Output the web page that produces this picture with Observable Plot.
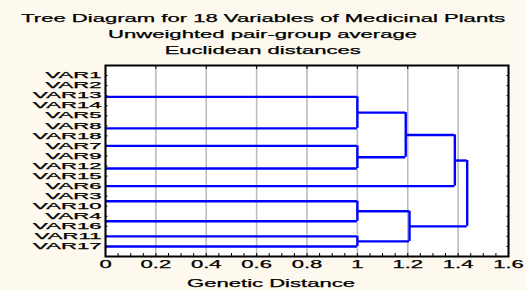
<!DOCTYPE html>
<html>
<head>
<meta charset="utf-8">
<script src="https://cdn.jsdelivr.net/npm/d3@7"></script>
<script src="https://cdn.jsdelivr.net/npm/@observablehq/plot@0.6"></script>
<style>
  html, body { margin: 0; padding: 0; background: #fdf9ee; }
  #wrap { width: 526px; height: 290px; overflow: hidden; background: #fdf9ee; }
  #title { width: 526px; text-align: center; padding-top: 10px; height: 48px;
           font-family: "Liberation Sans", Arial, sans-serif; font-size: 10.5px; line-height: 16px; color: #000;
           -webkit-text-stroke: 0.25px #000; }
  #title span { display: inline-block; transform: scaleX(2.1); white-space: nowrap; }
</style>
</head>
<body>
<div id="wrap">
  <div id="title">
    <div><span>Tree Diagram for 18 Variables of Medicinal Plants</span></div>
    <div><span>Unweighted pair-group average</span></div>
    <div><span>Euclidean distances</span></div>
  </div>
  <div id="chart"></div>
</div>
<script>
// ---- data ----
const labels = ["VAR1","VAR2","VAR13","VAR14","VAR5","VAR8","VAR18","VAR7","VAR9",
                "VAR12","VAR15","VAR6","VAR3","VAR10","VAR4","VAR16","VAR11","VAR17"];
// merge k (id "m"+(k+1)) joins mergeA[k] and mergeB[k] at mergeHeight[k]
const mergeA = ["VAR1","m1","m2","VAR5","m4","VAR9","m6","VAR3","VAR4","m3","VAR7","m10","m12","m8","VAR11","m14","m13"];
const mergeB = ["VAR2","VAR13","VAR14","VAR8","VAR18","VAR12","VAR15","VAR10","VAR16","m5","m7","m11","VAR6","m9","VAR17","m15","m16"];
const mergeHeight = [0,0,0,0,0,0,0,0,0,1.0,1.0,1.192,1.387,1.0,1.0,1.207,1.436];
const xTicks = [0,0.2,0.4,0.6,0.8,1,1.2,1.4,1.6];
const xMinor = d3.range(0,33).map(i => i*0.05);
const xLabel = "Genetic Distance";

// ---- build tree segments ----
const pos = new Map(), hgt = new Map();
labels.forEach((l,i) => { pos.set(l,i); hgt.set(l,0); });
const hSegs = [], vSegs = [];
mergeA.forEach((a,k) => {
  const b = mergeB[k], h = mergeHeight[k], id = "m"+(k+1);
  pos.set(id, (pos.get(a)+pos.get(b))/2);
  hgt.set(id, h);
  if (h > 0) {
    for (const c of [a,b]) hSegs.push({y: pos.get(c), x1: hgt.get(c), x2: h});
    vSegs.push({x: h, y1: pos.get(a), y2: pos.get(b)});
  }
});

const W = 526, H = 232;
const chart = Plot.plot({
  width: W, height: H,
  marginLeft: 105, marginRight: 18, marginTop: 7, marginBottom: 34,
  style: {fontFamily: "'Liberation Sans', Arial, sans-serif", fontSize: "10.5px", color: "#000", background: "#fdf9ee", overflow: "visible"},
  x: {domain: [0,1.6]},
  y: {domain: [-1,18], reverse: true},
  marks: [
    Plot.frame({fill: "white", stroke: null}),
    Plot.gridX(xTicks, {stroke: "#bcbcbc", strokeOpacity: 1, strokeWidth: 1.6}),
    Plot.ruleY(hSegs, {y: "y", x1: "x1", x2: "x2", stroke: "#0000ff", strokeWidth: 2.4}),
    Plot.ruleX(vSegs, {x: "x", y1: "y1", y2: "y2", stroke: "#0000ff", strokeWidth: 2.4}),
    Plot.axisX(xTicks, {anchor: "bottom", tickSize: 0, tickPadding: 4, tickFormat: d => String(d), label: null, fontSize: 10.5}),
    Plot.axisX(xMinor, {anchor: "bottom", tickSize: -3, text: null, label: null}),
    Plot.axisX(xTicks, {anchor: "top", tickSize: -3, text: null, label: null}),
    Plot.axisY(d3.range(18), {anchor: "left", tickSize: 0, tickPadding: 4, tickFormat: i => labels[i], label: null, fontSize: 8.5}),
    Plot.axisY(d3.range(18), {anchor: "left", tickSize: -2.5, text: null, label: null}),
    Plot.axisY(d3.range(18), {anchor: "right", tickSize: -2.5, text: null, label: null}),
    Plot.text([xLabel], {frameAnchor: "bottom", dy: 27, dx: -36, text: d => d, lineAnchor: "middle", fill: "#000", fontSize: 10.5}),
    Plot.frame({stroke: "#000", strokeWidth: 2})
  ]
});
document.getElementById("chart").appendChild(chart);
// horizontal stretch of all svg text, as in the reference
const yLabelTexts = new Set(chart.querySelectorAll('[aria-label="y-axis tick label"] text'));
chart.querySelectorAll("text").forEach(t => {
  const len = t.getComputedTextLength();
  const f = yLabelTexts.has(t) ? 2.6 : 2.1;
  if (len > 0) {
    t.setAttribute("textLength", (len*f).toFixed(2));
    t.setAttribute("lengthAdjust", "spacingAndGlyphs");
    t.style.stroke = "#000";
    t.style.strokeWidth = "0.25px";
  }
});
</script>
</body>
</html>
